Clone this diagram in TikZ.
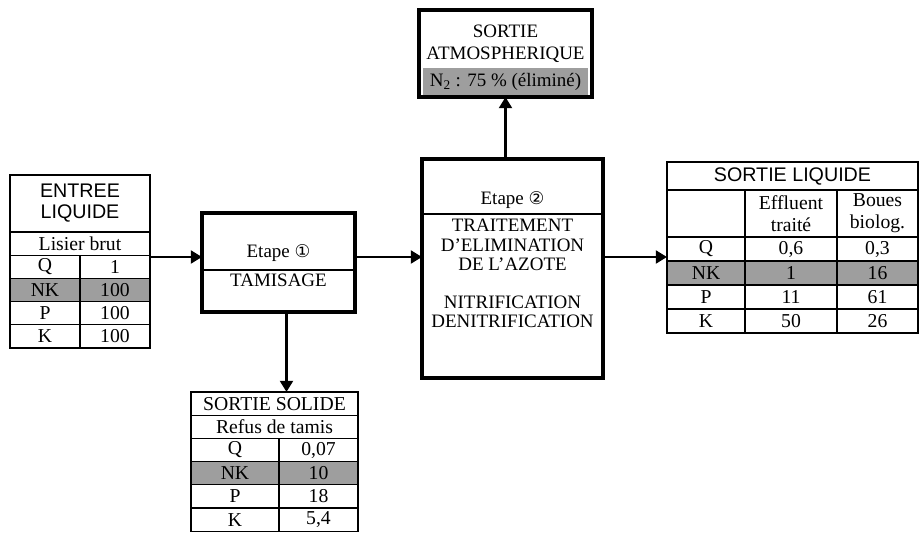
\documentclass[tikz,border=0pt]{standalone}
\usepackage{fontspec}
\setmainfont{Liberation Serif}
\newfontfamily\arialfont{Liberation Sans}
\newfontfamily\symfont{DejaVu Sans}
\usetikzlibrary{positioning,arrows.meta}
\definecolor{nkgray}{gray}{0.62}

\begin{document}
\begin{tikzpicture}[
  every node/.style={font=\fontsize{13.5}{15.5}\selectfont},
  cell/.style={draw, line width=0.9pt, inner sep=0pt, outer sep=0pt,
    align=center, minimum height=0.58cm, font=\fontsize{14}{15.5}\selectfont},
  lcell/.style={cell, minimum height=0.6cm},
  nkrow/.style={fill=nkgray},
  sanshdr/.style={font=\arialfont\fontsize{14}{15}\selectfont},
  stage/.style={draw, line width=2.2pt, inner sep=0pt, outer sep=0pt},
  label/.style={align=center, inner sep=0pt},
  sepline/.style={line width=0.8pt},
  arr/.style={-{Triangle[length=0.28cm,width=0.32cm]}, line width=2pt},
]
\useasboundingbox (0,0) rectangle (23.025,-13.3);

% entree liquide
\node[cell, sanshdr, minimum width=3.5cm, minimum height=1.425cm] at (2.0,-5.0875) (eHdr) {ENTREE\\LIQUIDE};
\node[cell, minimum width=3.5cm, anchor=north] at (eHdr.south) (eLis) {Lisier brut};
\node[cell, minimum width=1.75cm, anchor=north west] at (eLis.south west) (eQ)  {Q};
\node[cell, minimum width=1.75cm, anchor=north east] at (eLis.south east) (eQv) {1};
\node[cell, nkrow, minimum width=1.75cm, anchor=north west] at (eQ.south west)  (eNK)  {NK};
\node[cell, nkrow, minimum width=1.75cm, anchor=north east] at (eQv.south east) (eNKv) {100};
\node[cell, minimum width=1.75cm, anchor=north west] at (eNK.south west)  (eP)  {P};
\node[cell, minimum width=1.75cm, anchor=north east] at (eNKv.south east) (ePv) {100};
\node[cell, minimum width=1.75cm, anchor=north west] at (eP.south west)  (eK)  {K};
\node[cell, minimum width=1.75cm, anchor=north east] at (ePv.south east) (eKv) {100};

% etape 1
\node[stage, minimum width=3.825cm, minimum height=2.475cm] at (6.9625,-6.5625) (et1) {};
\node[label] at (6.9625,-6.325) (et1a) {Etape {\symfont\fontsize{12.5}{12.5}\selectfont ①}};
\node[label] at (6.9625,-7.0)   (et1b) {TAMISAGE};
\draw[sepline] ([yshift=-0.1875cm]et1.west) -- ([yshift=-0.1875cm]et1.east);

% sortie solide
\node[cell, minimum width=4.175cm] at (6.8625,-10.09) (sHdr) {SORTIE SOLIDE};
\node[cell, minimum width=4.175cm, anchor=north] at (sHdr.south) (sRef) {Refus de tamis};
\node[cell, minimum width=2.2cm, anchor=north west]   at (sRef.south west) (sQ)  {Q};
\node[cell, minimum width=1.975cm, anchor=north east] at (sRef.south east) (sQv) {0,07};
\node[cell, nkrow, minimum width=2.2cm, anchor=north west]   at (sQ.south west)  (sNK)  {NK};
\node[cell, nkrow, minimum width=1.975cm, anchor=north east] at (sQv.south east) (sNKv) {10};
\node[cell, minimum width=2.2cm, anchor=north west]   at (sNK.south west)  (sP)  {P};
\node[cell, minimum width=1.975cm, anchor=north east] at (sNKv.south east) (sPv) {18};
\node[cell, minimum width=2.2cm, anchor=north west]   at (sP.south west)  (sK)  {K};
\node[cell, minimum width=1.975cm, anchor=north east] at (sPv.south east) (sKv) {5,4};

% etape 2
\node[stage, minimum width=4.525cm, minimum height=5.475cm] at (12.8125,-6.7125) (et2) {};
\node[label] at (12.8125,-5.0) (et2a) {Etape {\symfont\fontsize{12.5}{12.5}\selectfont ②}};
\node[label, font=\fontsize{13.5}{13.6}\selectfont] at (12.8125,-6.84) (et2b)
  {TRAITEMENT\\D'ELIMINATION\\DE L'AZOTE\\~\\NITRIFICATION\\DENITRIFICATION};
\draw[sepline] ([yshift=1.3625cm]et2.west) -- ([yshift=1.3625cm]et2.east);

% sortie atmospherique
\node[label, fill=nkgray, minimum width=4.125cm, minimum height=0.675cm] at (12.6375,-2.0375) (atmoN)
  {N\textsubscript{2} : 75 \% (éliminé)};
\node[stage, minimum width=4.325cm, minimum height=2.175cm] at (12.6375,-1.3375) (atmo) {};
\node[label] at (12.6375,-1.1) (atmoT) {SORTIE\\ATMOSPHERIQUE};

% sortie liquide
\node[cell, sanshdr, minimum width=6.275cm, minimum height=0.7cm] at (19.8125,-4.4) (lHdr) {SORTIE LIQUIDE};
\node[cell, minimum width=1.95cm, minimum height=1.175cm, anchor=north west] at (lHdr.south west) (lBlank) {};
\node[cell, minimum width=2.3cm, minimum height=1.175cm, anchor=north west]  at (lBlank.north east) (lEff) {Effluent\\traité};
\node[cell, minimum width=2.025cm, minimum height=1.175cm, anchor=north west] at (lEff.north east) (lBou) {Boues\\biolog.};
\node[lcell, minimum width=1.95cm, anchor=north west]  at (lBlank.south west) (lQ)  {Q};
\node[lcell, minimum width=2.3cm, anchor=north west]   at (lQ.north east)  (lQa) {0,6};
\node[lcell, minimum width=2.025cm, anchor=north west] at (lQa.north east) (lQb) {0,3};
\node[lcell, nkrow, minimum width=1.95cm, anchor=north west]  at (lQ.south west)   (lNK)  {NK};
\node[lcell, nkrow, minimum width=2.3cm, anchor=north west]   at (lNK.north east)  (lNKa) {1};
\node[lcell, nkrow, minimum width=2.025cm, anchor=north west] at (lNKa.north east) (lNKb) {16};
\node[lcell, minimum width=1.95cm, anchor=north west]  at (lNK.south west)  (lP)  {P};
\node[lcell, minimum width=2.3cm, anchor=north west]   at (lP.north east)  (lPa) {11};
\node[lcell, minimum width=2.025cm, anchor=north west] at (lPa.north east) (lPb) {61};
\node[lcell, minimum width=1.95cm, anchor=north west]  at (lP.south west)  (lK)  {K};
\node[lcell, minimum width=2.3cm, anchor=north west]   at (lK.north east)  (lKa) {50};
\node[lcell, minimum width=2.025cm, anchor=north west] at (lKa.north east) (lKb) {26};

% flux
\coordinate (flow) at (0,-6.425);
\draw[arr] (flow -| eHdr.east) -- (flow -| et1.west);
\draw[arr] (flow -| et1.east)  -- (flow -| et2.west);
\draw[arr] (flow -| et2.east)  -- (flow -| lHdr.west);
\draw[arr] ([xshift=0.2cm]et1.south) -- ([xshift=0.2cm]et1.south |- sHdr.north);
\draw[arr] (et2.north -| atmo.south) -- (atmo.south);
\end{tikzpicture}
\end{document}
